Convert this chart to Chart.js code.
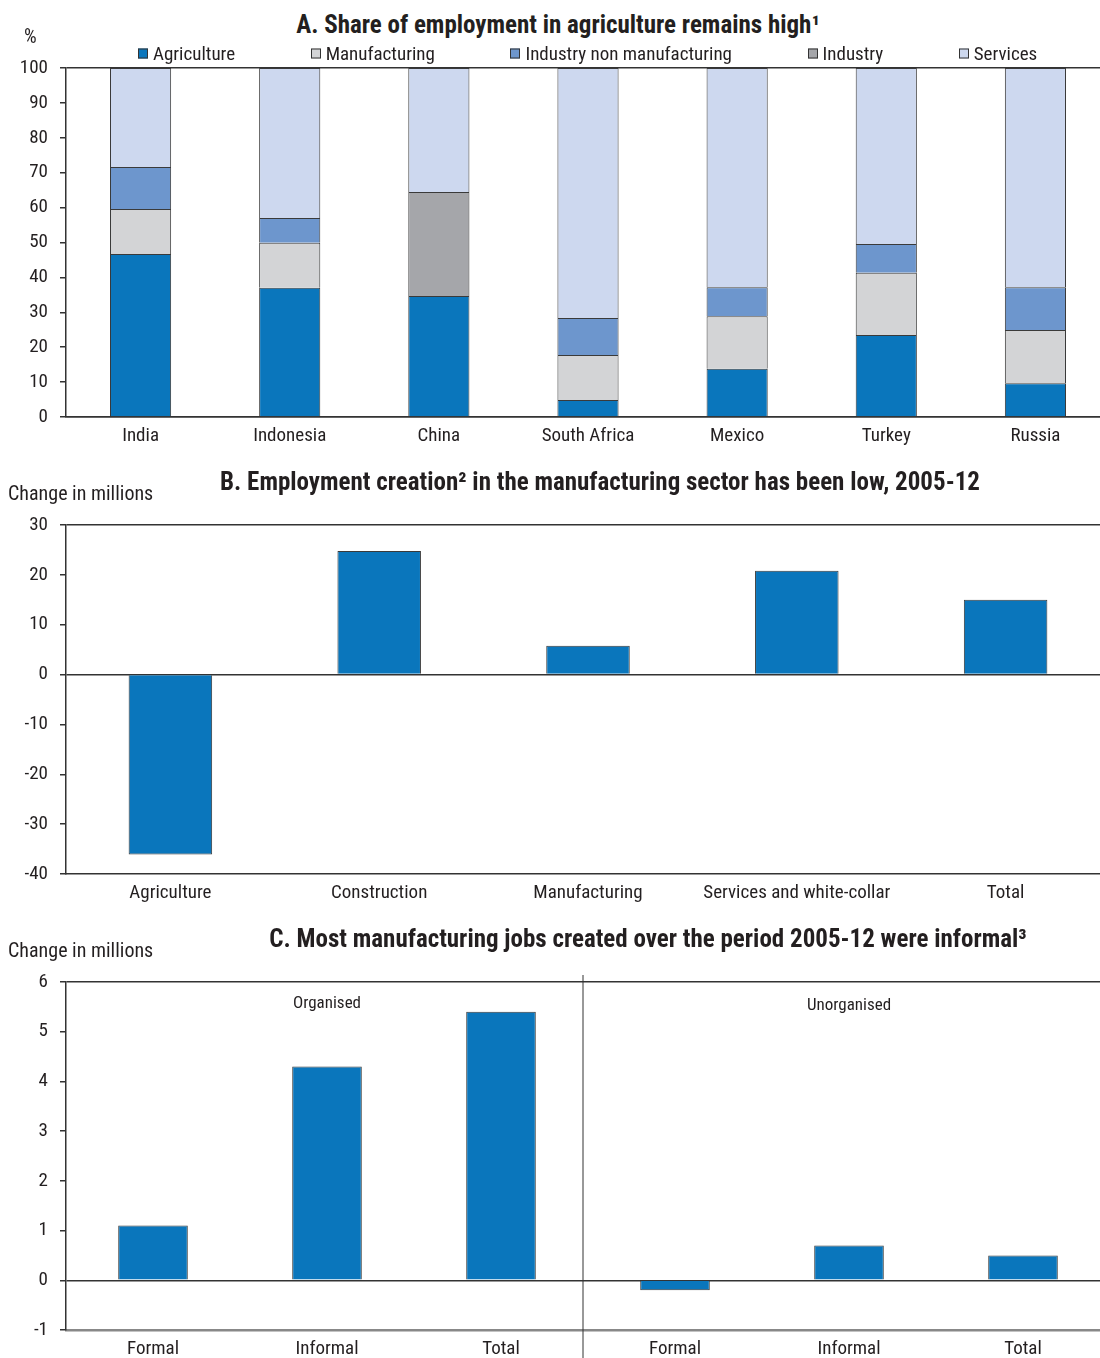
<!DOCTYPE html>
<html>
<head>
<meta charset="utf-8">
<script src="https://cdn.jsdelivr.net/npm/chart.js@4"></script>
<style>
  body { margin: 0; background: #fff; overflow: hidden; }
  #page { position: relative; width: 1100px; height: 1358px; overflow: hidden;
    font-family: "Liberation Sans Narrow", "Arial Narrow", "Roboto Condensed", "DejaVu Sans Condensed", sans-serif; color: #231f20; }
  /* plots run ~10px past the right edge of the picture */
  .box { position: absolute; left: 0; width: 1110px; }
  .title { position: absolute; font-weight: bold; font-size: 25px; white-space: nowrap; transform: translate(-50%, -50%); }
  .unit { position: absolute; font-size: 20px; white-space: nowrap; transform: translateY(-50%); }
  #legendA { position: absolute; left: 138px; top: 53px; transform: translateY(-50%); display: flex; gap: 75.5px; font-size: 19px; white-space: nowrap; }
  #legendA span.sw { display: inline-block; width: 10px; height: 10px; border: 1px solid #333; margin-right: 5px; vertical-align: 1px; box-sizing: border-box; }
</style>
</head>
<body>
<div id="page">
  <div class="box" style="top:40px;height:420px"><canvas id="chartA"></canvas></div>
  <div class="box" style="top:480px;height:430px"><canvas id="chartB"></canvas></div>
  <div class="box" style="top:940px;height:418px"><canvas id="chartC"></canvas></div>

  <div class="title" style="left:558px;top:24px">A. Share of employment in agriculture remains high¹</div>
  <div class="unit" style="left:24px;top:36px">%</div>
  <div id="legendA"></div>

  <div class="title" style="left:600px;top:481px">B. Employment creation² in the manufacturing sector has been low, 2005-12</div>
  <div class="unit" style="left:8px;top:493px">Change in millions</div>

  <div class="title" style="left:648px;top:938px">C. Most manufacturing jobs created over the period 2005-12 were informal³</div>
  <div class="unit" style="left:8px;top:950px">Change in millions</div>
</div>

<script>
/* ---------- Data ---------- */
const countries = ["India", "Indonesia", "China", "South Africa", "Mexico", "Turkey", "Russia"];
const agriculture   = [46.7, 37.0, 34.7, 4.9, 13.8, 23.5, 9.7];
const manufacturing = [12.9, 12.9, null, 12.9, 15.1, 17.8, 15.2];
const industryNonMf = [12.0, 7.1, null, 10.6, 8.3, 8.3, 12.3];
const industry      = [null, null, 29.8, null, null, null, null];
const services      = [28.4, 43.0, 35.5, 71.6, 62.8, 50.4, 62.8];

const sectorsB = ["Agriculture", "Construction", "Manufacturing", "Services and white-collar", "Total"];
const changeB  = [-36.1, 24.8, 5.8, 20.8, 15.0];

const jobTypesC = ["Formal", "Informal", "Total", "Formal", "Informal", "Total"];
const changeC   = [1.1, 4.3, 5.4, -0.2, 0.7, 0.5];
const groupsC   = ["Organised", "Unorganised"];

const seriesA = [
  { label: "Agriculture", data: agriculture, color: "#0a76bc" },
  { label: "Manufacturing", data: manufacturing, color: "#d3d4d6" },
  { label: "Industry non manufacturing", data: industryNonMf, color: "#6d96cd" },
  { label: "Industry", data: industry, color: "#a5a6aa" },
  { label: "Services", data: services, color: "#cdd8ef" },
];

/* ---------- Shared setup ---------- */
const FONT = '"Liberation Sans Narrow", "Arial Narrow", "Roboto Condensed", "DejaVu Sans Condensed", sans-serif';
Chart.defaults.font.family = FONT;
Chart.defaults.font.size = 19;
Chart.defaults.color = "#231f20";
Chart.defaults.animation = false;

const BAR_BLUE = "#0a76bc";

function yAxis(min, max, step) {
  return {
    min, max,
    ticks: { stepSize: step, padding: 12, color: "#231f20" },
    grid: {
      color: ctx => (ctx.tick && (ctx.tick.value === 0 || ctx.tick.value === max)) ? "#333" : "transparent",
      tickColor: "#333",
      tickLength: 6,
      lineWidth: 1.5,
    },
    border: { display: true, color: "#333", width: 1.5 },
    afterFit: s => { s.width = 66; },
  };
}

function xAxis(height) {
  return {
    grid: { display: false, drawTicks: false },
    ticks: { padding: 8, color: "#231f20", maxRotation: 0, autoSkip: false },
    border: { display: true, color: "#333", width: 1.5 },
    afterFit: s => { s.height = height; },
  };
}

const baseOptions = {
  responsive: true,
  maintainAspectRatio: false,
  plugins: { legend: { display: false }, tooltip: { enabled: false } },
};

/* ---------- Legend A (html) ---------- */
const legend = document.getElementById("legendA");
seriesA.forEach(s => {
  const item = document.createElement("div");
  item.innerHTML = `<span class="sw" style="background:${s.color}"></span>${s.label}`;
  legend.appendChild(item);
});

/* ---------- Panel A ---------- */
new Chart(document.getElementById("chartA"), {
  type: "bar",
  data: {
    labels: countries,
    datasets: seriesA.map(s => ({
      label: s.label,
      data: s.data,
      backgroundColor: s.color,
      borderColor: "#3a3a3a",
      borderWidth: 1,
      barPercentage: 0.41,
      categoryPercentage: 1,
    })),
  },
  options: {
    ...baseOptions,
    layout: { padding: { top: 28, right: 0, bottom: 0, left: 0 } },
    scales: {
      x: { ...xAxis(43), stacked: true },
      y: { ...yAxis(0, 100, 10), stacked: true },
    },
  },
});

/* ---------- Panel B ---------- */
new Chart(document.getElementById("chartB"), {
  type: "bar",
  data: {
    labels: sectorsB,
    datasets: [{
      data: changeB,
      backgroundColor: BAR_BLUE,
      borderColor: "#3a3a3a",
      borderWidth: 1,
      barPercentage: 0.40,
      categoryPercentage: 1,
    }],
  },
  options: {
    ...baseOptions,
    layout: { padding: { top: 45, right: 0, bottom: 0, left: 0 } },
    scales: { x: xAxis(36), y: yAxis(-40, 30, 10) },
  },
});

/* ---------- Panel C ---------- */
const groupPlugin = {
  id: "groups",
  afterDraw(chart) {
    const { ctx, chartArea, scales: { x } } = chart;
    const sepX = (x.getPixelForValue(2) + x.getPixelForValue(3)) / 2 - 5;
    ctx.save();
    ctx.strokeStyle = "#333";
    ctx.lineWidth = 1;
    ctx.beginPath();
    ctx.moveTo(sepX, chartArea.top - 7);
    ctx.lineTo(sepX, chart.height);
    ctx.stroke();
    ctx.font = "17px " + FONT;
    ctx.fillStyle = "#231f20";
    ctx.textAlign = "center";
    ctx.textBaseline = "middle";
    ctx.fillText(groupsC[0], x.getPixelForValue(1), chartArea.top + 22);
    ctx.fillText(groupsC[1], x.getPixelForValue(4), chartArea.top + 24);
    ctx.restore();
  },
};

new Chart(document.getElementById("chartC"), {
  type: "bar",
  data: {
    labels: jobTypesC,
    datasets: [{
      data: changeC,
      backgroundColor: BAR_BLUE,
      borderColor: "#3a3a3a",
      borderWidth: 1,
      barPercentage: 0.40,
      categoryPercentage: 1,
    }],
  },
  options: {
    ...baseOptions,
    layout: { padding: { top: 42, right: 0, bottom: 0, left: 0 } },
    scales: {
      x: { ...xAxis(28), border: { display: true, color: "#888", width: 2.5 } },
      y: yAxis(-1, 6, 1),
    },
  },
  plugins: [groupPlugin],
});
</script>
</body>
</html>
